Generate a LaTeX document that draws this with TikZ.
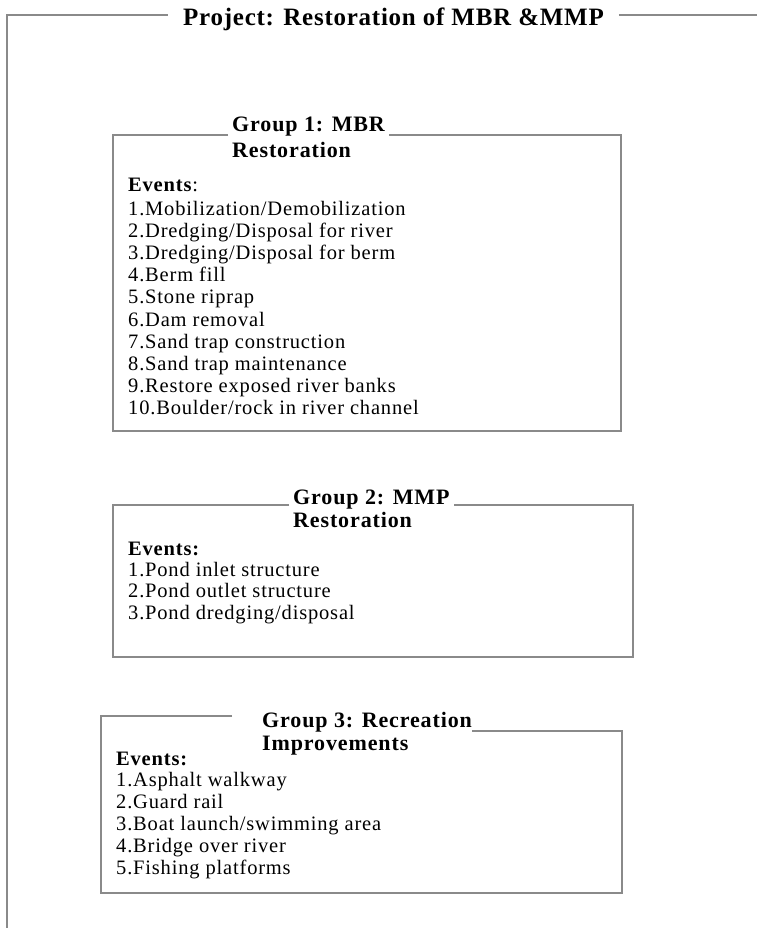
\documentclass[tikz,border=0pt]{standalone}
\usepackage{fontspec}
\setmainfont{Liberation Serif}
\newfontfamily\bodyfont[LetterSpace=4]{Liberation Serif}
\newfontfamily\headfont[LetterSpace=4]{Liberation Serif}
\newfontfamily\titlefont[LetterSpace=3]{Liberation Serif}
\definecolor{framegray}{HTML}{8A8A8A}
\tikzset{
  frame/.style={draw=framegray,line width=1.5pt},
  head/.style={anchor=base west,inner xsep=4pt,inner ysep=0pt,font=\headfont\bfseries\fontsize{22}{26}\selectfont},
  item/.style={anchor=base west,inner sep=0pt,font=\bodyfont\fontsize{20.5}{24}\selectfont},
}
\begin{document}
\begin{tikzpicture}[x=1pt,y=-1pt]
    \useasboundingbox(0,0)rectangle(757,928);
    % outer frame
    \coordinate(o1)at(7,928);
    \coordinate(o2)at(7,15);
    \coordinate(o3)at(757,15);
    \node(t)[anchor=base west,inner xsep=15pt,inner ysep=0pt,font=\titlefont\bfseries\fontsize{25}{29}\selectfont]at(168,26){Project: Restoration of MBR \&MMP};
    \draw[frame](o1)--(o2)--(t.west|-o2);
    \draw[frame](t.east|-o3)--(o3);
    % group 1
    \coordinate(a1)at(113,135);
    \coordinate(a2)at(113,431);
    \coordinate(a3)at(621,431);
    \coordinate(a4)at(621,135);
    \node(h1)[head]at(228,132){Group 1: MBR};
    \node(h1b)[head]at(228,158){Restoration};
    \draw[frame](h1.west|-a1)--(a1)--(a2)--(a3)--(a4)--(h1.east|-a4);
    \node(e1)[item]at(128,192){\textbf{Events}:};
    \node(m1)[item]at(128,215){1.Mobilization/Demobilization};
    \node(m2)[item]at(128,237.2){2.Dredging/Disposal for river};
    \node(m3)[item]at(128,259.4){3.Dredging/Disposal for berm};
    \node(m4)[item]at(128,281.6){4.Berm fill};
    \node(m5)[item]at(128,303.8){5.Stone riprap};
    \node(m6)[item]at(128,326){6.Dam removal};
    \node(m7)[item]at(128,348.2){7.Sand trap construction};
    \node(m8)[item]at(128,370.4){8.Sand trap maintenance};
    \node(m9)[item]at(128,392.6){9.Restore exposed river banks};
    \node(m10)[item]at(128,414.8){10.Boulder/rock in river channel};
    % group 2
    \coordinate(b1)at(113,505);
    \coordinate(b2)at(113,657);
    \coordinate(b3)at(633,657);
    \coordinate(b4)at(633,505);
    \node(h2)[head]at(289,504){Group 2: MMP};
    \node(h2b)[head]at(289,527){Restoration};
    \draw[frame](h2.west|-b1)--(b1)--(b2)--(b3)--(b4)--(h2.east|-b4);
    \node(e2)[item]at(128,555){\textbf{Events:}};
    \node(p1)[item]at(128,576){1.Pond inlet structure};
    \node(p2)[item]at(128,597.5){2.Pond outlet structure};
    \node(p3)[item]at(128,619){3.Pond dredging/disposal};
    % group 3
    \coordinate(c0)at(232,716);
    \coordinate(c1)at(101,716);
    \coordinate(c2)at(101,893);
    \coordinate(c3)at(622,893);
    \coordinate(c4)at(622,731);
    \node(h3)[head,inner xsep=0pt]at(262,727){Group 3: Recreation};
    \node(h3b)[head,inner xsep=0pt]at(262,750){Improvements};
    \draw[frame](c0)--(c1)--(c2)--(c3)--(c4)--(h3.east|-c4);
    \node(e3)[item]at(116,765){\textbf{Events:}};
    \node(r1)[item]at(116,786){1.Asphalt walkway};
    \node(r2)[item]at(116,808){2.Guard rail};
    \node(r3)[item]at(116,830){3.Boat launch/swimming area};
    \node(r4)[item]at(116,852){4.Bridge over river};
    \node(r5)[item]at(116,874){5.Fishing platforms};
\end{tikzpicture}
\end{document}
